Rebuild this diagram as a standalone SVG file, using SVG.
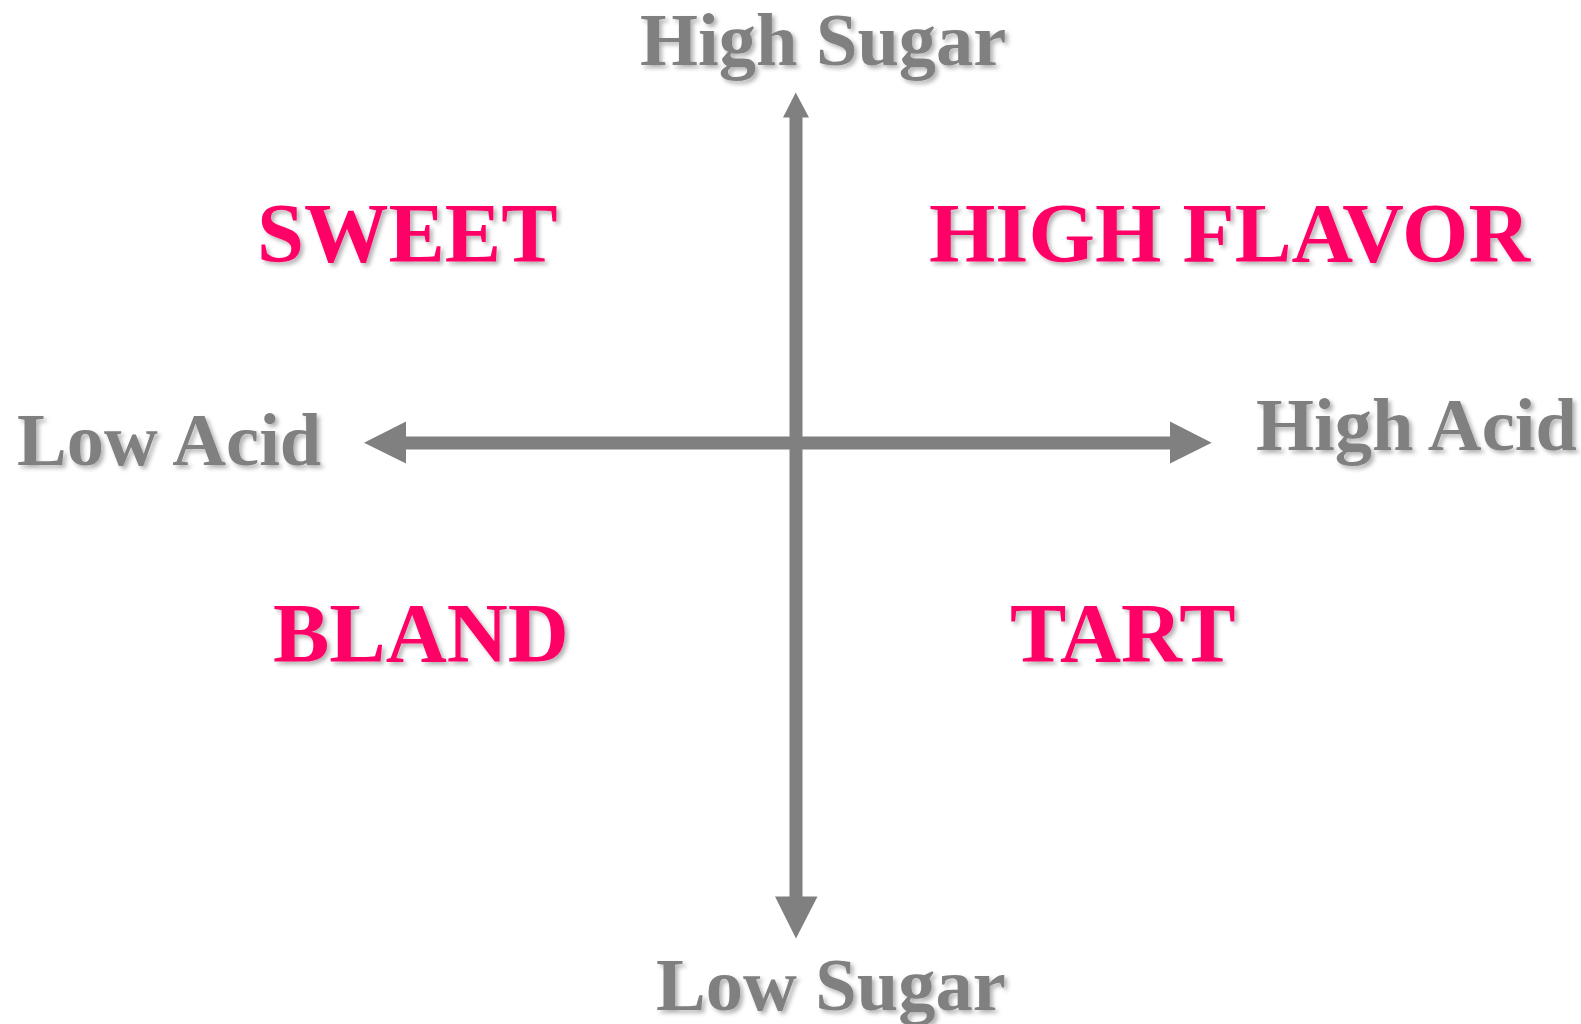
<svg xmlns="http://www.w3.org/2000/svg" width="1581" height="1024" viewBox="0 0 1581 1024">
  <defs>
    <filter id="shadow" x="-5%" y="-20%" width="115%" height="150%">
      <feDropShadow dx="3" dy="3" stdDeviation="2" flood-color="#000" flood-opacity="0.3"/>
    </filter>
    <style>
      .axis-label { font-family: "Liberation Serif", "Times New Roman", serif; font-weight: bold; font-size: 74.5px; fill: #808080; filter: url(#shadow); }
      .quadrant { font-family: "Liberation Serif", "Times New Roman", serif; font-weight: bold; font-size: 84.5px; fill: #FF0066; filter: url(#shadow); }
      .wide { font-size: 85.3px; }
      .axis { stroke: #808080; stroke-width: 13; fill: none; }
      .head { fill: #808080; stroke: none; }
    </style>
  </defs>
  <rect width="1581" height="1024" fill="#FFFFFF"/>

  <g id="connectors">
    <line class="axis" x1="796" y1="116" x2="796" y2="898"/>
    <line class="axis" x1="404" y1="443" x2="1172" y2="443"/>
    <polygon class="head" points="795.7,92.5 783,117.5 809,117.5"/>
    <polygon class="head" points="796,938.5 775,896.5 817.5,896.5"/>
    <polygon class="head" points="364,442.7 406,421.5 406,463.5"/>
    <polygon class="head" points="1211.7,442.7 1170,421.5 1170,463.5"/>
  </g>

  <g id="high-sugar"><text class="axis-label" x="640" y="65">High Sugar</text></g>
  <g id="low-sugar"><text class="axis-label" x="656" y="1010">Low Sugar</text></g>
  <g id="low-acid"><text class="axis-label" x="17" y="465">Low Acid</text></g>
  <g id="high-acid"><text class="axis-label" x="1256" y="450">High Acid</text></g>

  <g id="sweet"><text class="quadrant" x="257" y="262">SWEET</text></g>
  <g id="high-flavor"><text class="quadrant wide" x="929" y="262">HIGH FLAVOR</text></g>
  <g id="bland"><text class="quadrant" x="273" y="662">BLAND</text></g>
  <g id="tart"><text class="quadrant" x="1010" y="662">TART</text></g>
</svg>
